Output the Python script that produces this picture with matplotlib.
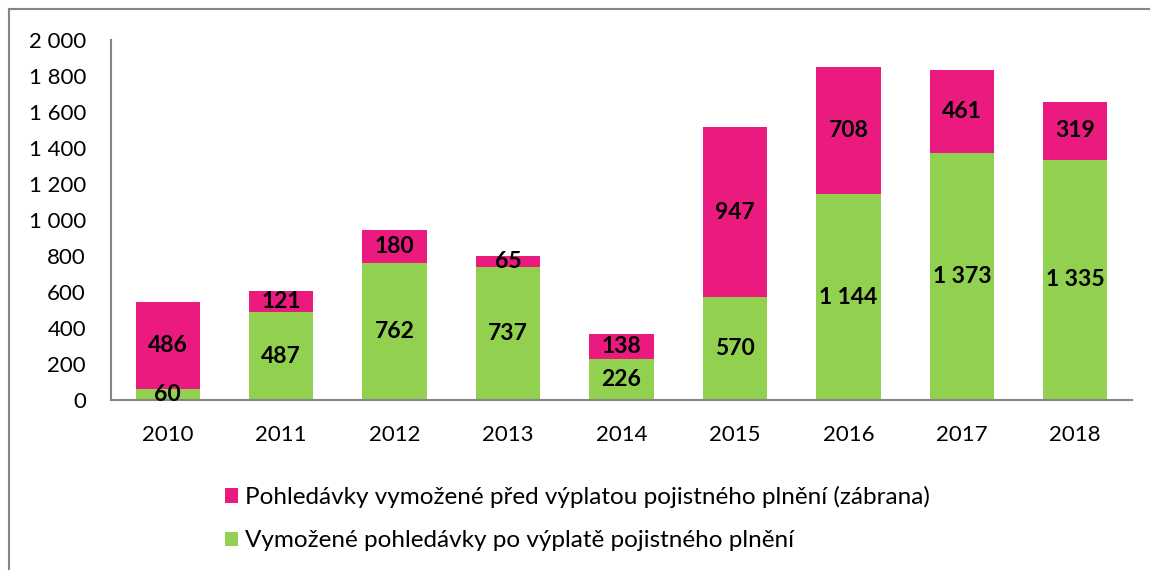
import numpy as np
import matplotlib
matplotlib.use('Agg')
import matplotlib.pyplot as plt
from matplotlib.lines import Line2D

# Data
years = ['2010', '2011', '2012', '2013', '2014', '2015', '2016', '2017', '2018']
after_payment = [60, 487, 762, 737, 226, 570, 1144, 1373, 1335]
before_payment = [486, 121, 180, 65, 138, 947, 708, 461, 319]
y_ticks = [0, 200, 400, 600, 800, 1000, 1200, 1400, 1600, 1800, 2000]

label_before = 'Pohledávky vymožené před výplatou pojistného plnění (zábrana)'
label_after = 'Vymožené pohledávky po výplatě pojistného plnění'

pink = '#EA1A7E'
green = '#92D050'
grey = '#868686'

plt.rcParams['font.family'] = ['Lato', 'DejaVu Sans']


def fmt(v):
    return f'{v:,}'.replace(',', ' ')


W, H = 1150, 570
fig = plt.figure(figsize=(W / 100, H / 100), dpi=100)

# outer chart frame: only the left and top edges show in the reference
fig.add_artist(Line2D([9 / W, 1.0], [1 - 9 / H, 1 - 9 / H], transform=fig.transFigure,
                      color=grey, linewidth=1.5))
fig.add_artist(Line2D([9 / W, 9 / W], [0.0, 1 - 9 / H], transform=fig.transFigure,
                      color=grey, linewidth=1.5))

ax = fig.add_axes([111 / W, 1 - 400 / H, 1021 / W, 360 / H])

x = np.arange(len(years))
width = 0.567
ax.bar(x, after_payment, width, color=green, label=label_after)
ax.bar(x, before_payment, width, bottom=after_payment, color=pink, label=label_before)

for i in range(len(years)):
    ax.text(x[i], after_payment[i] / 2, fmt(after_payment[i]), ha='center', va='center',
            fontsize=16.5, fontweight='bold', color='black')
    ax.text(x[i], after_payment[i] + before_payment[i] / 2, fmt(before_payment[i]),
            ha='center', va='center', fontsize=16.5, fontweight='bold', color='black')

ax.set_xlim(-0.5, len(years) - 0.5)
ax.set_ylim(0, 2000)
ax.set_yticks(y_ticks)
ax.set_yticklabels([fmt(v) for v in y_ticks])
ax.set_xticks(x)
ax.set_xticklabels(years)
ax.tick_params(axis='both', length=0, labelsize=16)
ax.tick_params(axis='y', pad=18)
ax.tick_params(axis='x', pad=18)

for s in ['top', 'right']:
    ax.spines[s].set_visible(False)
for s in ['left', 'bottom']:
    ax.spines[s].set_color(grey)
    ax.spines[s].set_linewidth(1.5)

handles, labels = ax.get_legend_handles_labels()
fig.legend(handles[::-1], labels[::-1], loc='upper left',
           bbox_to_anchor=(208 / W, 1 - 469 / H), frameon=False,
           fontsize=17.5, handlelength=0.53, handleheight=0.53,
           handletextpad=0.3, labelspacing=0.92, borderpad=0.2)

fig.savefig('out.png', dpi=100)
